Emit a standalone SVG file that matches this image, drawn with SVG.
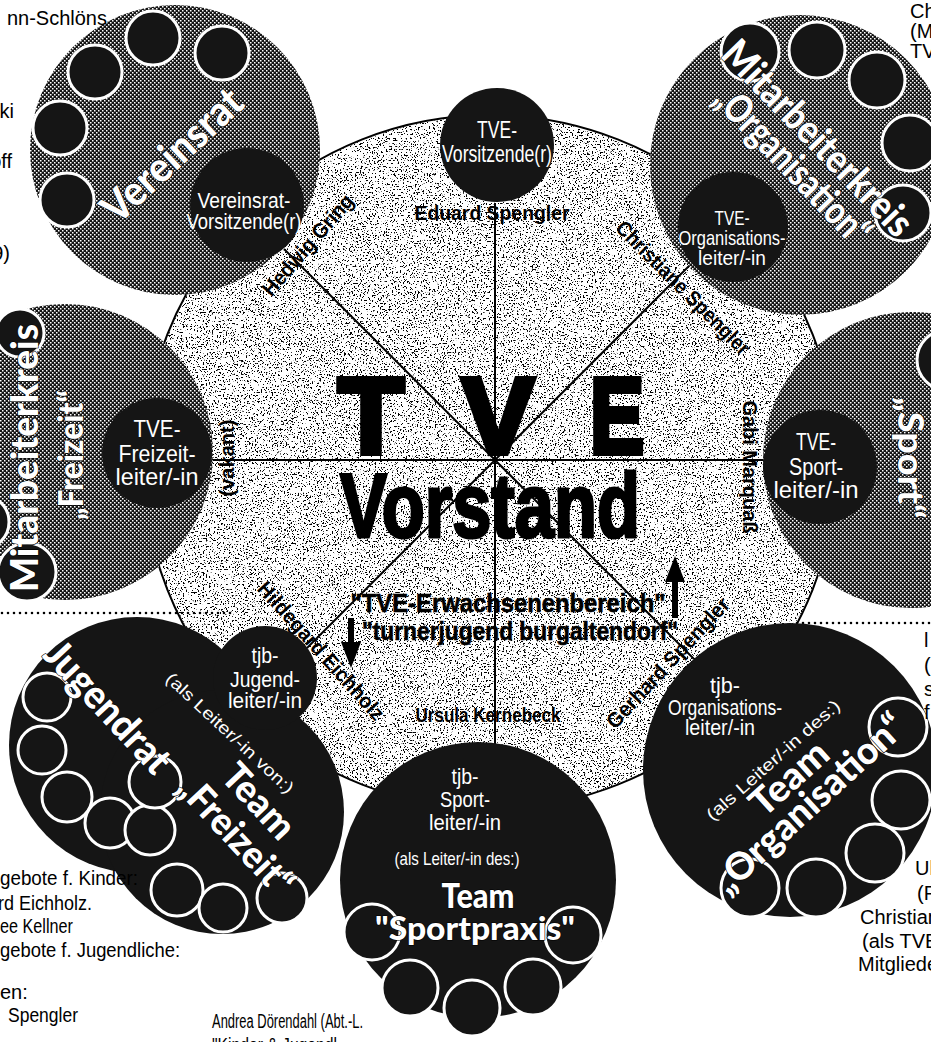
<svg xmlns="http://www.w3.org/2000/svg" width="931" height="1042" viewBox="0 0 931 1042">
<defs>
<pattern id="hatch" width="4" height="4" patternUnits="userSpaceOnUse">
<rect width="4" height="4" fill="#141414"/>
<rect x="0" y="0" width="1.5" height="1.5" fill="#fff"/>
<rect x="2" y="2" width="1.5" height="1.5" fill="#fff"/>
</pattern>
<filter id="stip" x="0" y="0" width="1" height="1">
<feTurbulence type="fractalNoise" baseFrequency="0.65" numOctaves="2" seed="7"/>
<feColorMatrix type="matrix" values="0 0 0 0 0  0 0 0 0 0  0 0 0 0 0  1 0 0 0 0"/>
<feComponentTransfer><feFuncA type="linear" slope="22" intercept="-13.2"/></feComponentTransfer>
<feComposite operator="in" in2="SourceAlpha"/>
</filter>
<style>
.lbl{font-family:"Liberation Sans",Arial,sans-serif;fill:#fff;text-anchor:middle;}
.ttl{font-family:Lato,"Liberation Sans",sans-serif;font-weight:900;fill:#fff;stroke:#000;stroke-width:1.2;paint-order:stroke;text-anchor:middle;}
.name{font-family:"Liberation Sans",Arial,sans-serif;font-weight:bold;fill:#000;text-anchor:middle;font-size:21px;}
.side{font-family:"Liberation Sans",Arial,sans-serif;fill:#000;font-size:20px;}
.big{fill:url(#hatch);}
.dark{fill:#151515;}
.ring{fill:#151515;stroke:#fff;stroke-width:3;}
.spoke{stroke:#000;stroke-width:2;fill:none;}
.heavy{font-family:"Liberation Sans",Arial,sans-serif;font-weight:bold;fill:#000;stroke:#000;text-anchor:middle;}
</style>
</defs>
<rect width="931" height="1042" fill="#fff"/>

<g id="vorstand">
<circle cx="490" cy="462" r="347" fill="#fff" stroke="#000" stroke-width="2"/>
<circle cx="490" cy="462" r="346" fill="#000" filter="url(#stip)"/>
</g>

<g id="connectors">
<line class="spoke" x1="495" y1="460" x2="495" y2="203"/>
<line class="spoke" x1="495" y1="460" x2="495" y2="760"/>
<line class="spoke" x1="495" y1="460" x2="210" y2="460"/>
<line class="spoke" x1="495" y1="460" x2="765" y2="460"/>
<line class="spoke" x1="495" y1="460" x2="284" y2="249"/>
<line class="spoke" x1="495" y1="460" x2="692" y2="263"/>
<line class="spoke" x1="495" y1="460" x2="307" y2="648"/>
<line class="spoke" x1="495" y1="460" x2="694" y2="659"/>
<line x1="2" y1="613" x2="232" y2="613" stroke="#000" stroke-width="2.6" stroke-dasharray="0 6" stroke-linecap="round"/>
<line x1="797" y1="623" x2="931" y2="623" stroke="#000" stroke-width="2.6" stroke-dasharray="0 6" stroke-linecap="round"/>
<path d="M348,618 h6 v24 h7 l-10,26 l-10,-26 h7 z" fill="#000"/>
<path d="M672,618 v-36 h-7 l10,-26 l10,26 h-7 v36 z" fill="#000"/>
</g>

<g id="vorstand-text">
<text class="name" x="492" y="220" textLength="155" lengthAdjust="spacingAndGlyphs">Eduard Spengler</text>
<text class="name" transform="translate(308,245) rotate(-49)" y="7" textLength="127" lengthAdjust="spacingAndGlyphs">Hedwig Gring</text>
<text class="name" transform="translate(683,288) rotate(45)" y="7" textLength="180" lengthAdjust="spacingAndGlyphs">Christiane Spengler</text>
<text class="name" transform="translate(750,467) rotate(90)" y="7" textLength="133" lengthAdjust="spacingAndGlyphs">Gabi Marquaß</text>
<text class="name" transform="translate(227,458) rotate(-90)" y="7" textLength="77" lengthAdjust="spacingAndGlyphs">(vakant)</text>
<text class="name" transform="translate(321,651) rotate(48)" y="7" textLength="178" lengthAdjust="spacingAndGlyphs">Hildegard Eichholz</text>
<text class="name" transform="translate(668,663) rotate(-47)" y="7" textLength="170" lengthAdjust="spacingAndGlyphs">Gerhard Spengler</text>
<text class="name" x="488" y="722" textLength="145" lengthAdjust="spacingAndGlyphs">Ursula Kernebeck</text>
<text class="heavy" x="371" y="453" font-size="108" stroke-width="6">T</text>
<text class="heavy" x="498" y="453" font-size="108" stroke-width="6">V</text>
<text class="heavy" x="617" y="453" font-size="108" stroke-width="6" textLength="54" lengthAdjust="spacingAndGlyphs">E</text>
<text class="heavy" x="490" y="537" font-size="90" stroke-width="3" textLength="300" lengthAdjust="spacingAndGlyphs">Vorstand</text>
<text class="heavy" x="508" y="612" font-size="26" stroke-width="0.6" textLength="315" lengthAdjust="spacingAndGlyphs">"TVE-Erwachsenenbereich"</text>
<text class="heavy" x="520" y="640" font-size="26" stroke-width="0.6" textLength="316" lengthAdjust="spacingAndGlyphs">"turnerjugend burgaltendorf"</text>
</g>

<g id="tve-vorsitz">
<circle class="dark" cx="497" cy="145" r="57"/>
<text class="lbl" font-size="24" x="497" y="138" textLength="40" lengthAdjust="spacingAndGlyphs">TVE-</text>
<text class="lbl" font-size="24" x="497" y="162" textLength="110" lengthAdjust="spacingAndGlyphs">Vorsitzende(r)</text>
</g>

<g id="vereinsrat">
<circle class="big" cx="175" cy="150" r="145"/>
<circle class="ring" cx="95" cy="72" r="27"/>
<circle class="ring" cx="153" cy="38" r="27"/>
<circle class="ring" cx="222" cy="53" r="27"/>
<circle class="ring" cx="60" cy="128" r="27"/>
<circle class="ring" cx="67" cy="200" r="27"/>
<text class="ttl" font-size="42" transform="translate(172,155) rotate(-43)" dy="0.35em" textLength="176" lengthAdjust="spacingAndGlyphs">Vereinsrat</text>
<circle class="dark" cx="247" cy="205" r="57"/>
<text class="lbl" font-size="22" x="244" y="208" textLength="93" lengthAdjust="spacingAndGlyphs">Vereinsrat-</text>
<text class="lbl" font-size="22" x="244" y="229" textLength="115" lengthAdjust="spacingAndGlyphs">Vorsitzende(r)</text>
</g>

<g id="mk-organisation">
<circle class="big" cx="800" cy="165" r="150"/>
<circle class="ring" cx="750" cy="52" r="29"/>
<circle class="ring" cx="817" cy="50" r="28"/>
<circle class="ring" cx="877" cy="80" r="28"/>
<circle class="ring" cx="910" cy="143" r="28"/>
<circle class="ring" cx="903" cy="213" r="28"/>
<text class="ttl" font-size="40" transform="translate(818,138) rotate(46)" dy="0.35em" textLength="255" lengthAdjust="spacingAndGlyphs">Mitarbeiterkreis</text>
<text class="ttl" font-size="40" transform="translate(793,165) rotate(46)" dy="0.35em" textLength="205" lengthAdjust="spacingAndGlyphs">„Organisation“</text>
<circle class="dark" cx="733" cy="227" r="55"/>
<text class="lbl" font-size="21" x="732" y="225" textLength="35" lengthAdjust="spacingAndGlyphs">TVE-</text>
<text class="lbl" font-size="21" x="732" y="245" textLength="107" lengthAdjust="spacingAndGlyphs">Organisations-</text>
<text class="lbl" font-size="21" x="732" y="265" textLength="68" lengthAdjust="spacingAndGlyphs">leiter/-in</text>
</g>

<g id="mk-freizeit">
<circle class="big" cx="65" cy="452" r="148"/>
<circle class="ring" cx="20" cy="333" r="24"/>
<circle class="ring" cx="27" cy="572" r="29"/>
<circle class="ring" cx="-18" cy="522" r="27"/>
<text class="ttl" font-size="38" transform="translate(25,458) rotate(-90)" dy="0.35em" textLength="268" lengthAdjust="spacingAndGlyphs">Mitarbeiterkreis</text>
<text class="ttl" font-size="34" transform="translate(71,455) rotate(-90)" dy="0.35em" textLength="130" lengthAdjust="spacingAndGlyphs">„Freizeit“</text>
<circle class="dark" cx="157" cy="453" r="55"/>
<text class="lbl" font-size="24" x="157" y="437" textLength="47" lengthAdjust="spacingAndGlyphs">TVE-</text>
<text class="lbl" font-size="24" x="157" y="462" textLength="77" lengthAdjust="spacingAndGlyphs">Freizeit-</text>
<text class="lbl" font-size="24" x="157" y="485" textLength="83" lengthAdjust="spacingAndGlyphs">leiter/-in</text>
</g>

<g id="mk-sport">
<circle class="big" cx="911" cy="460" r="148"/>
<circle class="ring" cx="947" cy="360" r="30"/>
<text class="ttl" font-size="36" transform="translate(911,458) rotate(90)" dy="0.35em" textLength="122" lengthAdjust="spacingAndGlyphs">„Sport“</text>
<circle class="dark" cx="820" cy="467" r="57"/>
<text class="lbl" font-size="24" x="816" y="450" textLength="40" lengthAdjust="spacingAndGlyphs">TVE-</text>
<text class="lbl" font-size="24" x="816" y="475" textLength="54" lengthAdjust="spacingAndGlyphs">Sport-</text>
<text class="lbl" font-size="24" x="816" y="498" textLength="85" lengthAdjust="spacingAndGlyphs">leiter/-in</text>
</g>

<g id="jugendrat">
<circle class="dark" cx="137" cy="745" r="128"/>
<circle class="dark" cx="222" cy="812" r="122"/>
<circle class="dark" cx="265" cy="678" r="52"/>
<circle class="ring" cx="47" cy="697" r="24"/>
<circle class="ring" cx="42" cy="750" r="24"/>
<circle class="ring" cx="67" cy="797" r="25"/>
<circle class="ring" cx="110" cy="823" r="25"/>
<circle class="ring" cx="150" cy="830" r="25"/>
<circle class="ring" cx="155" cy="782" r="26"/>
<circle class="ring" cx="177" cy="890" r="26"/>
<circle class="ring" cx="223" cy="908" r="24"/>
<circle class="ring" cx="282" cy="898" r="25"/>
<text class="lbl" font-size="22" x="265" y="663" textLength="27" lengthAdjust="spacingAndGlyphs">tjb-</text>
<text class="lbl" font-size="22" x="265" y="687" textLength="70" lengthAdjust="spacingAndGlyphs">Jugend-</text>
<text class="lbl" font-size="22" x="265" y="708" textLength="74" lengthAdjust="spacingAndGlyphs">leiter/-in</text>
<text class="ttl" font-size="40" transform="translate(108,707) rotate(47)" dy="0.35em" textLength="165" lengthAdjust="spacingAndGlyphs">Jugendrat</text>
<text class="lbl" font-size="17" transform="translate(230,733) rotate(43)" dy="0.35em" textLength="168" lengthAdjust="spacingAndGlyphs">(als Leiter/-in von:)</text>
<text class="ttl" font-size="38" transform="translate(259,801) rotate(47)" dy="0.35em" textLength="88" lengthAdjust="spacingAndGlyphs">Team</text>
<text class="ttl" font-size="38" transform="translate(236,835) rotate(47)" dy="0.35em" textLength="150" lengthAdjust="spacingAndGlyphs">„Freizeit“</text>
</g>

<g id="team-organisation">
<circle class="dark" cx="790" cy="770" r="147"/>
<circle class="ring" cx="898" cy="727" r="29"/>
<circle class="ring" cx="901" cy="800" r="29"/>
<circle class="ring" cx="875" cy="853" r="29"/>
<circle class="ring" cx="816" cy="888" r="29"/>
<circle class="ring" cx="750" cy="888" r="29"/>
<text class="lbl" font-size="22" x="725" y="693" textLength="30" lengthAdjust="spacingAndGlyphs">tjb-</text>
<text class="lbl" font-size="22" x="725" y="715" textLength="114" lengthAdjust="spacingAndGlyphs">Organisations-</text>
<text class="lbl" font-size="22" x="720" y="735" textLength="70" lengthAdjust="spacingAndGlyphs">leiter/-in</text>
<text class="lbl" font-size="17" transform="translate(773,760) rotate(-41.5)" dy="0.35em" textLength="172" lengthAdjust="spacingAndGlyphs">(als Leiter/-in des:)</text>
<text class="ttl" font-size="38" transform="translate(789,778) rotate(-42)" dy="0.35em" textLength="92" lengthAdjust="spacingAndGlyphs">Team</text>
<text class="ttl" font-size="38" transform="translate(809,803) rotate(-42.5)" dy="0.35em" textLength="245" lengthAdjust="spacingAndGlyphs">„Organisation“</text>
</g>

<g id="team-sportpraxis">
<circle class="dark" cx="478" cy="880" r="138"/>
<circle class="ring" cx="372" cy="932" r="28"/>
<circle class="ring" cx="410" cy="988" r="28"/>
<circle class="ring" cx="472" cy="1008" r="28"/>
<circle class="ring" cx="533" cy="987" r="28"/>
<circle class="ring" cx="573" cy="935" r="28"/>
<text class="lbl" font-size="22" x="465" y="784" textLength="27" lengthAdjust="spacingAndGlyphs">tjb-</text>
<text class="lbl" font-size="22" x="465" y="807" textLength="50" lengthAdjust="spacingAndGlyphs">Sport-</text>
<text class="lbl" font-size="22" x="465" y="830" textLength="72" lengthAdjust="spacingAndGlyphs">leiter/-in</text>
<text class="lbl" font-size="19" x="457" y="865" textLength="125" lengthAdjust="spacingAndGlyphs">(als Leiter/-in des:)</text>
<text class="ttl" font-size="34" x="478" y="908" textLength="73" lengthAdjust="spacingAndGlyphs">Team</text>
<text class="ttl" font-size="32" x="475" y="940" textLength="200" lengthAdjust="spacingAndGlyphs">"Sportpraxis"</text>
</g>

<g id="side-texts">
<text class="side" x="107" y="25" text-anchor="end" font-size="21">nn-Schlöns</text>
<text class="side" x="14" y="118" text-anchor="end" font-size="21">cki</text>
<text class="side" x="12" y="168" text-anchor="end" font-size="21">off</text>
<text class="side" x="10" y="260" text-anchor="end" font-size="21">9)</text>
<text class="side" x="910" y="18">Ch</text>
<text class="side" x="910" y="38">(M</text>
<text class="side" x="910" y="58">TV</text>
<text class="side" x="924" y="647">l</text>
<text class="side" x="924" y="672">(</text>
<text class="side" x="924" y="696">s</text>
<text class="side" x="924" y="719">f</text>
<text class="side" x="915" y="875">Ul</text>
<text class="side" x="917" y="900">(F</text>
<text class="side" x="860" y="924">Christiane</text>
<text class="side" x="862" y="948">(als TVE-</text>
<text class="side" x="858" y="971">Mitglieder</text>
<text class="side" x="0" y="885" textLength="138" lengthAdjust="spacingAndGlyphs">gebote f. Kinder:</text>
<text class="side" x="-2" y="910" textLength="94" lengthAdjust="spacingAndGlyphs">rd Eichholz.</text>
<text class="side" x="0" y="933" textLength="73" lengthAdjust="spacingAndGlyphs">ee Kellner</text>
<text class="side" x="0" y="957" textLength="180" lengthAdjust="spacingAndGlyphs">gebote f. Jugendliche:</text>
<text class="side" x="0" y="999">en:</text>
<text class="side" x="8" y="1022" textLength="70" lengthAdjust="spacingAndGlyphs">Spengler</text>
<text class="side" x="212" y="1028" font-size="21" textLength="151" lengthAdjust="spacingAndGlyphs">Andrea Dörendahl (Abt.-L.</text>
<text class="side" x="212" y="1052" font-size="21" textLength="125" lengthAdjust="spacingAndGlyphs">"Kinder &amp; Jugendl</text>
</g>
</svg>
